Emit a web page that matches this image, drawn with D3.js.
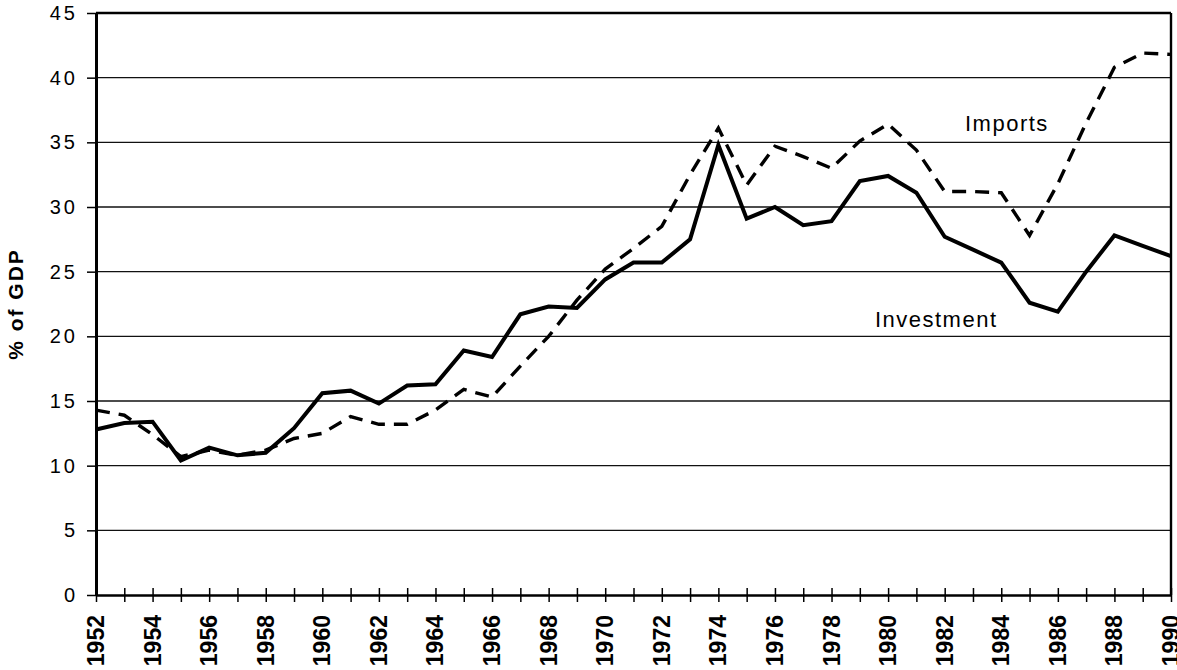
<!DOCTYPE html>
<html>
<head>
<meta charset="utf-8">
<script src="https://cdn.jsdelivr.net/npm/d3@7/dist/d3.min.js"></script>
<style>
  body { margin: 0; background: #fff; }
  svg { display: block; font-family: Arial, "Liberation Sans", sans-serif; }
</style>
</head>
<body>
<svg id="chart" width="1177" height="670"></svg>
<script>
// years on the x axis
const years = d3.range(1952, 1991);

// investment, % of GDP (solid line)
const investment = [12.8, 13.3, 13.4, 10.4, 11.4, 10.8, 11.0, 12.9, 15.6, 15.8,
  14.8, 16.2, 16.3, 18.9, 18.4, 21.7, 22.3, 22.2, 24.4, 25.7,
  25.7, 27.5, 34.8, 29.1, 30.0, 28.6, 28.9, 32.0, 32.4, 31.1,
  27.7, 26.7, 25.7, 22.6, 21.9, 25.0, 27.8, 27.0, 26.2];

// imports, % of GDP (dashed line)
const imports = [14.3, 13.9, 12.4, 10.7, 11.2, 10.8, 11.2, 12.1, 12.5, 13.8,
  13.2, 13.2, 14.3, 15.9, 15.3, 17.7, 20.0, 22.8, 25.2, 26.8,
  28.5, 32.5, 36.1, 31.7, 34.7, 33.9, 33.0, 35.1, 36.4, 34.4,
  31.2, 31.2, 31.1, 27.8, 31.8, 36.5, 40.8, 41.9, 41.8];

const yTicks = [0, 5, 10, 15, 20, 25, 30, 35, 40, 45];
const xLabelYears = years.filter(d => d % 2 === 0);

const svg = d3.select("#chart");
const margin = { top: 13, right: 6, bottom: 75, left: 96 };
const width = 1177 - margin.left - margin.right;
const height = 670 - margin.top - margin.bottom;

const g = svg.append("g")
  .attr("transform", `translate(${margin.left},${margin.top})`);

const x = d3.scaleLinear().domain([1952, 1990]).range([0, width]);
const y = d3.scaleLinear().domain([0, 45]).range([height, 0]);

// horizontal gridlines
g.selectAll(".grid")
  .data(yTicks.filter(d => d > 0 && d < 45))
  .enter().append("line")
  .attr("class", "grid")
  .attr("x1", 0).attr("x2", width)
  .attr("y1", d => y(d)).attr("y2", d => y(d))
  .attr("stroke", "#111")
  .attr("stroke-width", 1.4);

// top and right frame
g.append("line")
  .attr("x1", 0).attr("x2", width)
  .attr("y1", 0).attr("y2", 0)
  .attr("stroke", "#000").attr("stroke-width", 2.6);
g.append("line")
  .attr("x1", width).attr("x2", width)
  .attr("y1", 0).attr("y2", height)
  .attr("stroke", "#000").attr("stroke-width", 2.4);

// y axis
const yAxis = g.append("g")
  .call(d3.axisLeft(y).tickValues(yTicks).tickSize(9).tickPadding(12).tickSizeOuter(0));
yAxis.select(".domain").attr("stroke-width", 3);
yAxis.selectAll(".tick line").attr("stroke-width", 1.5);
yAxis.selectAll(".tick text")
  .attr("font-size", 20)
  .attr("letter-spacing", "3px")
  .attr("dx", "3")
  .attr("fill", "#000");

// x axis with cross ticks at every year
const xAxis = g.append("g")
  .attr("transform", `translate(0,${height})`)
  .call(d3.axisBottom(x).tickValues(years).tickSize(7).tickSizeOuter(0).tickFormat(""));
xAxis.select(".domain").attr("stroke-width", 2.6);
xAxis.selectAll(".tick line")
  .attr("y1", -7)
  .attr("stroke-width", 1.5);

g.selectAll(".xlabel")
  .data(xLabelYears)
  .enter().append("text")
  .attr("class", "xlabel")
  .attr("transform", d => `translate(${x(d) + 8},${height + 20}) rotate(-90)`)
  .attr("text-anchor", "end")
  .attr("font-size", 23)
  .attr("font-weight", "bold")
  .text(d => d);

// y axis title
svg.append("text")
  .attr("transform", `translate(23,${margin.top + y(22.5)}) rotate(-90)`)
  .attr("text-anchor", "middle")
  .attr("font-size", 21)
  .attr("font-weight", "bold")
  .attr("letter-spacing", "2px")
  .text("% of GDP");

// lines
const line = d3.line()
  .x((d, i) => x(years[i]))
  .y(d => y(d));

g.append("path")
  .datum(imports)
  .attr("fill", "none")
  .attr("stroke", "#000")
  .attr("stroke-width", 3.4)
  .attr("stroke-dasharray", "14,9")
  .attr("d", line);

g.append("path")
  .datum(investment)
  .attr("fill", "none")
  .attr("stroke", "#000")
  .attr("stroke-width", 4)
  .attr("stroke-linejoin", "miter")
  .attr("d", line);

// series labels
g.append("text")
  .attr("x", x(1984.2))
  .attr("y", y(35.9))
  .attr("text-anchor", "middle")
  .attr("font-size", 22)
  .attr("letter-spacing", "1.5px")
  .text("Imports");

g.append("text")
  .attr("x", x(1981.7))
  .attr("y", y(20.7))
  .attr("text-anchor", "middle")
  .attr("font-size", 22)
  .attr("letter-spacing", "1.5px")
  .text("Investment");
</script>
</body>
</html>
